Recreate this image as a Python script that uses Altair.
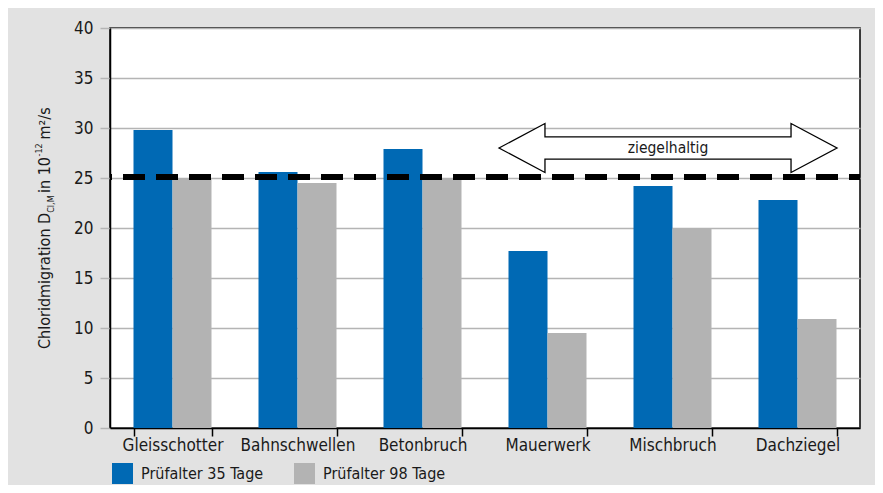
import altair as alt
import pandas as pd

categories = ["Gleisschotter", "Bahnschwellen", "Betonbruch", "Mauerwerk", "Mischbruch", "Dachziegel"]
series = ["Prüfalter 35 Tage", "Prüfalter 98 Tage"]
values_35 = [29.8, 25.6, 27.9, 17.7, 24.2, 22.8]
values_98 = [25.0, 24.5, 25.0, 9.5, 20.0, 10.9]
threshold = [25.1]
arrow_label = ["ziegelhaltig"]
arrow_category = ["Mischbruch"]
arrow_value = [28.0]
y_ticks = [0, 5, 10, 15, 20, 25, 30, 35, 40]
colors = ["#0069b4", "#b3b3b3"]

FONT = "Liberation Sans Narrow, DejaVu Sans Condensed, sans-serif"
TXT = "#1a1a1a"

rows = []
for c, a, b in zip(categories, values_35, values_98):
    rows.append({"category": c, "series": series[0], "value": a})
    rows.append({"category": c, "series": series[1], "value": b})
df = pd.DataFrame(rows)

bars = alt.Chart(df).mark_bar().encode(
    x=alt.X("category:N", sort=categories,
            scale=alt.Scale(paddingInner=0.376, paddingOuter=0.188),
            axis=alt.Axis(title=None, tickBand="extent", labelAngle=0,
                          domainColor="black", domainWidth=1.5,
                          tickColor="black", tickWidth=1.5, tickSize=8,
                          labelFontSize=17, labelFont=FONT, labelColor=TXT,
                          labelPadding=1, grid=False)),
    xOffset=alt.XOffset("series:N", sort=series,
                        scale=alt.Scale(paddingInner=0, paddingOuter=0)),
    y=alt.Y("value:Q", scale=alt.Scale(domain=[0, 40]),
            axis=alt.Axis(title=None, values=y_ticks,
                          domainColor="black", domainWidth=1.5,
                          gridColor="#b4b4b4", gridWidth=1.5,
                          tickColor="#b4b4b4", tickWidth=1.5, tickSize=10,
                          labelFontSize=17, labelFont=FONT, labelColor=TXT,
                          labelPadding=7)),
    color=alt.Color("series:N", sort=series,
                    scale=alt.Scale(domain=series, range=colors),
                    legend=alt.Legend(title=None, orient="none", legendX=2, legendY=435,
                                      direction="horizontal", symbolType="square",
                                      symbolSize=441, symbolStrokeWidth=0,
                                      labelFontSize=16, labelFont=FONT, labelColor=TXT,
                                      labelOffset=8, columnPadding=30, padding=0)),
)

rule = alt.Chart(pd.DataFrame({"t": threshold})).mark_rule(
    color="black", strokeWidth=6, strokeDash=[22, 11], strokeDashOffset=11
).encode(y="t:Q")

ARROW = ("M -1 0 L -0.728 -0.145 L -0.728 -0.066 L 0.728 -0.066 L 0.728 -0.145 "
         "L 1 0 L 0.728 0.145 L 0.728 0.066 L -0.728 0.066 L -0.728 0.145 Z")
adf = pd.DataFrame({"category": arrow_category, "value": arrow_value, "label": arrow_label})
arrow = alt.Chart(adf).mark_point(
    shape=ARROW, size=338 ** 2, filled=True, fill="white", stroke="black",
    strokeWidth=1.3, opacity=1, xOffset=-4.5
).encode(x=alt.X("category:N", sort=categories), y="value:Q")
arrow_text = alt.Chart(adf).mark_text(
    font=FONT, fontSize=15.5, color=TXT, xOffset=-4.5, baseline="middle"
).encode(x=alt.X("category:N", sort=categories), y="value:Q", text="label:N")

# rotated y-axis title pieces (reads bottom to top): text, size, x, y-start
title_pieces = [
    ("Chloridmigration D", 16, -65, 321),
    ("Cl,M", 9, -59, 184.8),
    (" in 10", 16, -65, 165.0),
    ("-12", 9, -71, 128.5),
    (" m²/s", 16, -65, 111.5),
]
titles = []
for txt, fs, xx, yy in title_pieces:
    titles.append(
        alt.Chart(pd.DataFrame({"t": [txt]})).mark_text(
            font=FONT, fontSize=fs, angle=270, align="left", baseline="middle",
            color=TXT
        ).encode(x=alt.value(xx), y=alt.value(yy), text="t:N")
    )

chart = alt.layer(bars, rule, arrow, arrow_text, *titles).properties(
    width=750, height=400,
    autosize=alt.AutoSizeParams(type="none"),
    padding={"left": 102, "top": 20, "right": 15, "bottom": 57},
    background="#e2e2e2",
).configure_view(stroke="black", strokeWidth=1.5, fill="white")

chart.save("out.html", embed_options={"renderer": "svg", "actions": False})
